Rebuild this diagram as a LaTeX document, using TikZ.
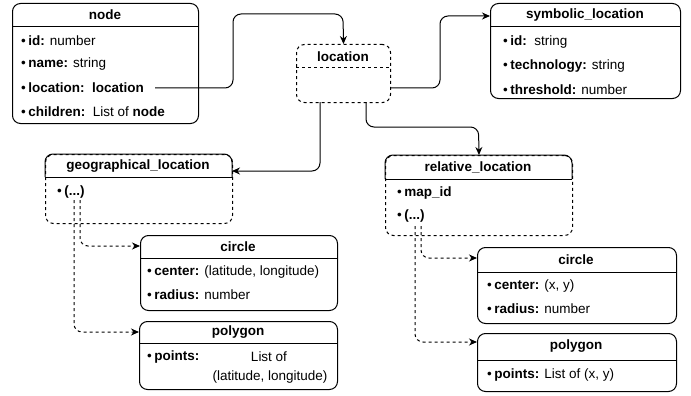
\documentclass[tikz,border=0pt]{standalone}
\usepackage{fontspec}
\setmainfont{Liberation Sans}
\usetikzlibrary{arrows.meta}
\newcommand{\bul}{•\hspace{2.5pt}}
\begin{document}
\begin{tikzpicture}[x=1pt,y=-1pt,
  box/.style={draw, rounded corners=8pt, line width=1pt, anchor=north west, inner sep=0pt},
  dbox/.style={box, dashed},
  title/.style={font=\fontsize{13.5}{16}\selectfont\bfseries, inner sep=0pt},
  item/.style={font=\fontsize{13.5}{16}\selectfont, anchor=west, inner sep=0pt},
  ctext/.style={font=\fontsize{13.5}{16}\selectfont, inner sep=0pt},
  conn/.style={draw, line width=1pt, rounded corners=8pt, -{Stealth[length=8pt,width=7pt]}},
  dconn/.style={conn, dashed},
  hl/.style={line width=1pt},
  dhl/.style={line width=1pt, dashed}
]
\useasboundingbox (0,0) rectangle (691,396);

% node box
\node[box, minimum width=186pt, minimum height=120pt] (nodeB) at (12,3) {};
\draw[hl] (12,27) -- (198,27);
\node[title] (nodeT) at (105,15) {node};
\node[item] (n1) at (21,41) {\bul\textbf{id:} number};
\node[item] (n2) at (21,64) {\bul\textbf{name:} string};
\node[item] (n3) at (21,88) {\bul\textbf{location:\ \ location}};
\node[item] (n4) at (21,112) {\bul\textbf{children:}\ \ List of \textbf{node}};

% location box (dashed)
\node[dbox, minimum width=94pt, minimum height=58pt] (loc) at (296,44) {};
\draw[dhl] (296,68) -- (390,68);
\node[title] (locT) at (343,57) {location};

% symbolic_location
\node[box, minimum width=190pt, minimum height=95pt] (sym) at (490,3) {};
\draw[hl] (490,27) -- (680,27);
\node[title] (symT) at (585,15) {symbolic\_location};
\node[item] (s1) at (503,42) {\bul\textbf{id:}\ \ string};
\node[item] (s2) at (503,66) {\bul\textbf{technology:} string};
\node[item] (s3) at (503,90) {\bul\textbf{threshold:} number};

% geographical_location
\node[dbox, minimum width=187pt, minimum height=69pt] (geo) at (45,154) {};
\draw[hl, rounded corners=8pt] (45,177) -- (45,154) -- (232,154) -- (232,177);
\draw[hl] (45,177) -- (232,177);
\node[title] (geoT) at (138,166) {geographical\_location};
\node[item] (g1) at (57,192) {\bul\textbf{(...)}};

% relative_location
\node[dbox, minimum width=187pt, minimum height=80pt] (rel) at (385,155) {};
\draw[hl, rounded corners=8pt] (385,179) -- (385,155) -- (572,155) -- (572,179);
\draw[hl] (385,179) -- (572,179);
\node[title] (relT) at (478,167) {relative\_location};
\node[item] (r1) at (397,193) {\bul\textbf{map\_id}};
\node[item] (r2) at (397,216) {\bul\textbf{(...)}};

% geo circle
\node[box, minimum width=197pt, minimum height=75pt] (gc) at (140,235) {};
\draw[hl] (140,258) -- (337,258);
\node[title] (gcT) at (238,247) {circle};
\node[item] (gc1) at (147,272) {\bul\textbf{center:} (latitude, longitude)};
\node[item] (gc2) at (147,295) {\bul\textbf{radius:} number};

% geo polygon
\node[box, minimum width=198pt, minimum height=68pt] (gp) at (139,321) {};
\draw[hl] (139,343) -- (337,343);
\node[title] (gpT) at (238,332) {polygon};
\node[item] (gp1) at (147,357) {\bul\textbf{points:}};
\node[ctext] (gp2) at (269,357) {List of};
\node[ctext] (gp3) at (270,377) {(latitude, longitude)};

% rel circle
\node[box, minimum width=199pt, minimum height=76pt] (rc) at (477,247) {};
\draw[hl] (477,272) -- (676,272);
\node[title] (rcT) at (576,260) {circle};
\node[item] (rc1) at (487,286) {\bul\textbf{center:} (x, y)};
\node[item] (rc2) at (487,309) {\bul\textbf{radius:} number};

% rel polygon
\node[box, minimum width=199pt, minimum height=58pt] (rp) at (477,333) {};
\draw[hl] (477,360) -- (676,360);
\node[title] (rpT) at (576,346) {polygon};
\node[item] (rp1) at (487,375) {\bul\textbf{points:} List of (x, y)};

% waypoints
\coordinate (a0) at (155,88);
\coordinate (a1) at (233,88);
\coordinate (a2) at (233,14);
\coordinate (a3) at (343,14);
\draw[conn] (a0) -- (a1) -- (a2) -- (a3) -- (loc.north);

\coordinate (b0) at (390,88);
\coordinate (b1) at (440,88);
\coordinate (b2) at (440,16);
\coordinate (b3) at (490,16);
\draw[conn] (b0) -- (b1) -- (b2) -- (b3);

\coordinate (c0) at (320,102);
\coordinate (c1) at (320,171);
\coordinate (c2) at (232,171);
\draw[conn] (c0) -- (c1) -- (c2);

\coordinate (d0) at (366,102);
\coordinate (d1) at (366,127);
\coordinate (d2) at (478.5,127);
\draw[conn] (d0) -- (d1) -- (d2) -- (rel.north);

\coordinate (e0) at (80,200);
\coordinate (e1) at (80,246);
\coordinate (e2) at (140,246);
\draw[dconn] (e0) -- (e1) -- (e2);
\coordinate (f0) at (74,200);
\coordinate (f1) at (74,332);
\coordinate (f2) at (139,332);
\draw[dconn] (f0) -- (f1) -- (f2);

\coordinate (g0) at (421,226);
\coordinate (g1) at (421,258);
\coordinate (g2) at (477,258);
\draw[dconn] (g0) -- (g1) -- (g2);
\coordinate (h0) at (415,226);
\coordinate (h1) at (415,342);
\coordinate (h2) at (477,342);
\draw[dconn] (h0) -- (h1) -- (h2);
\end{tikzpicture}
\end{document}
